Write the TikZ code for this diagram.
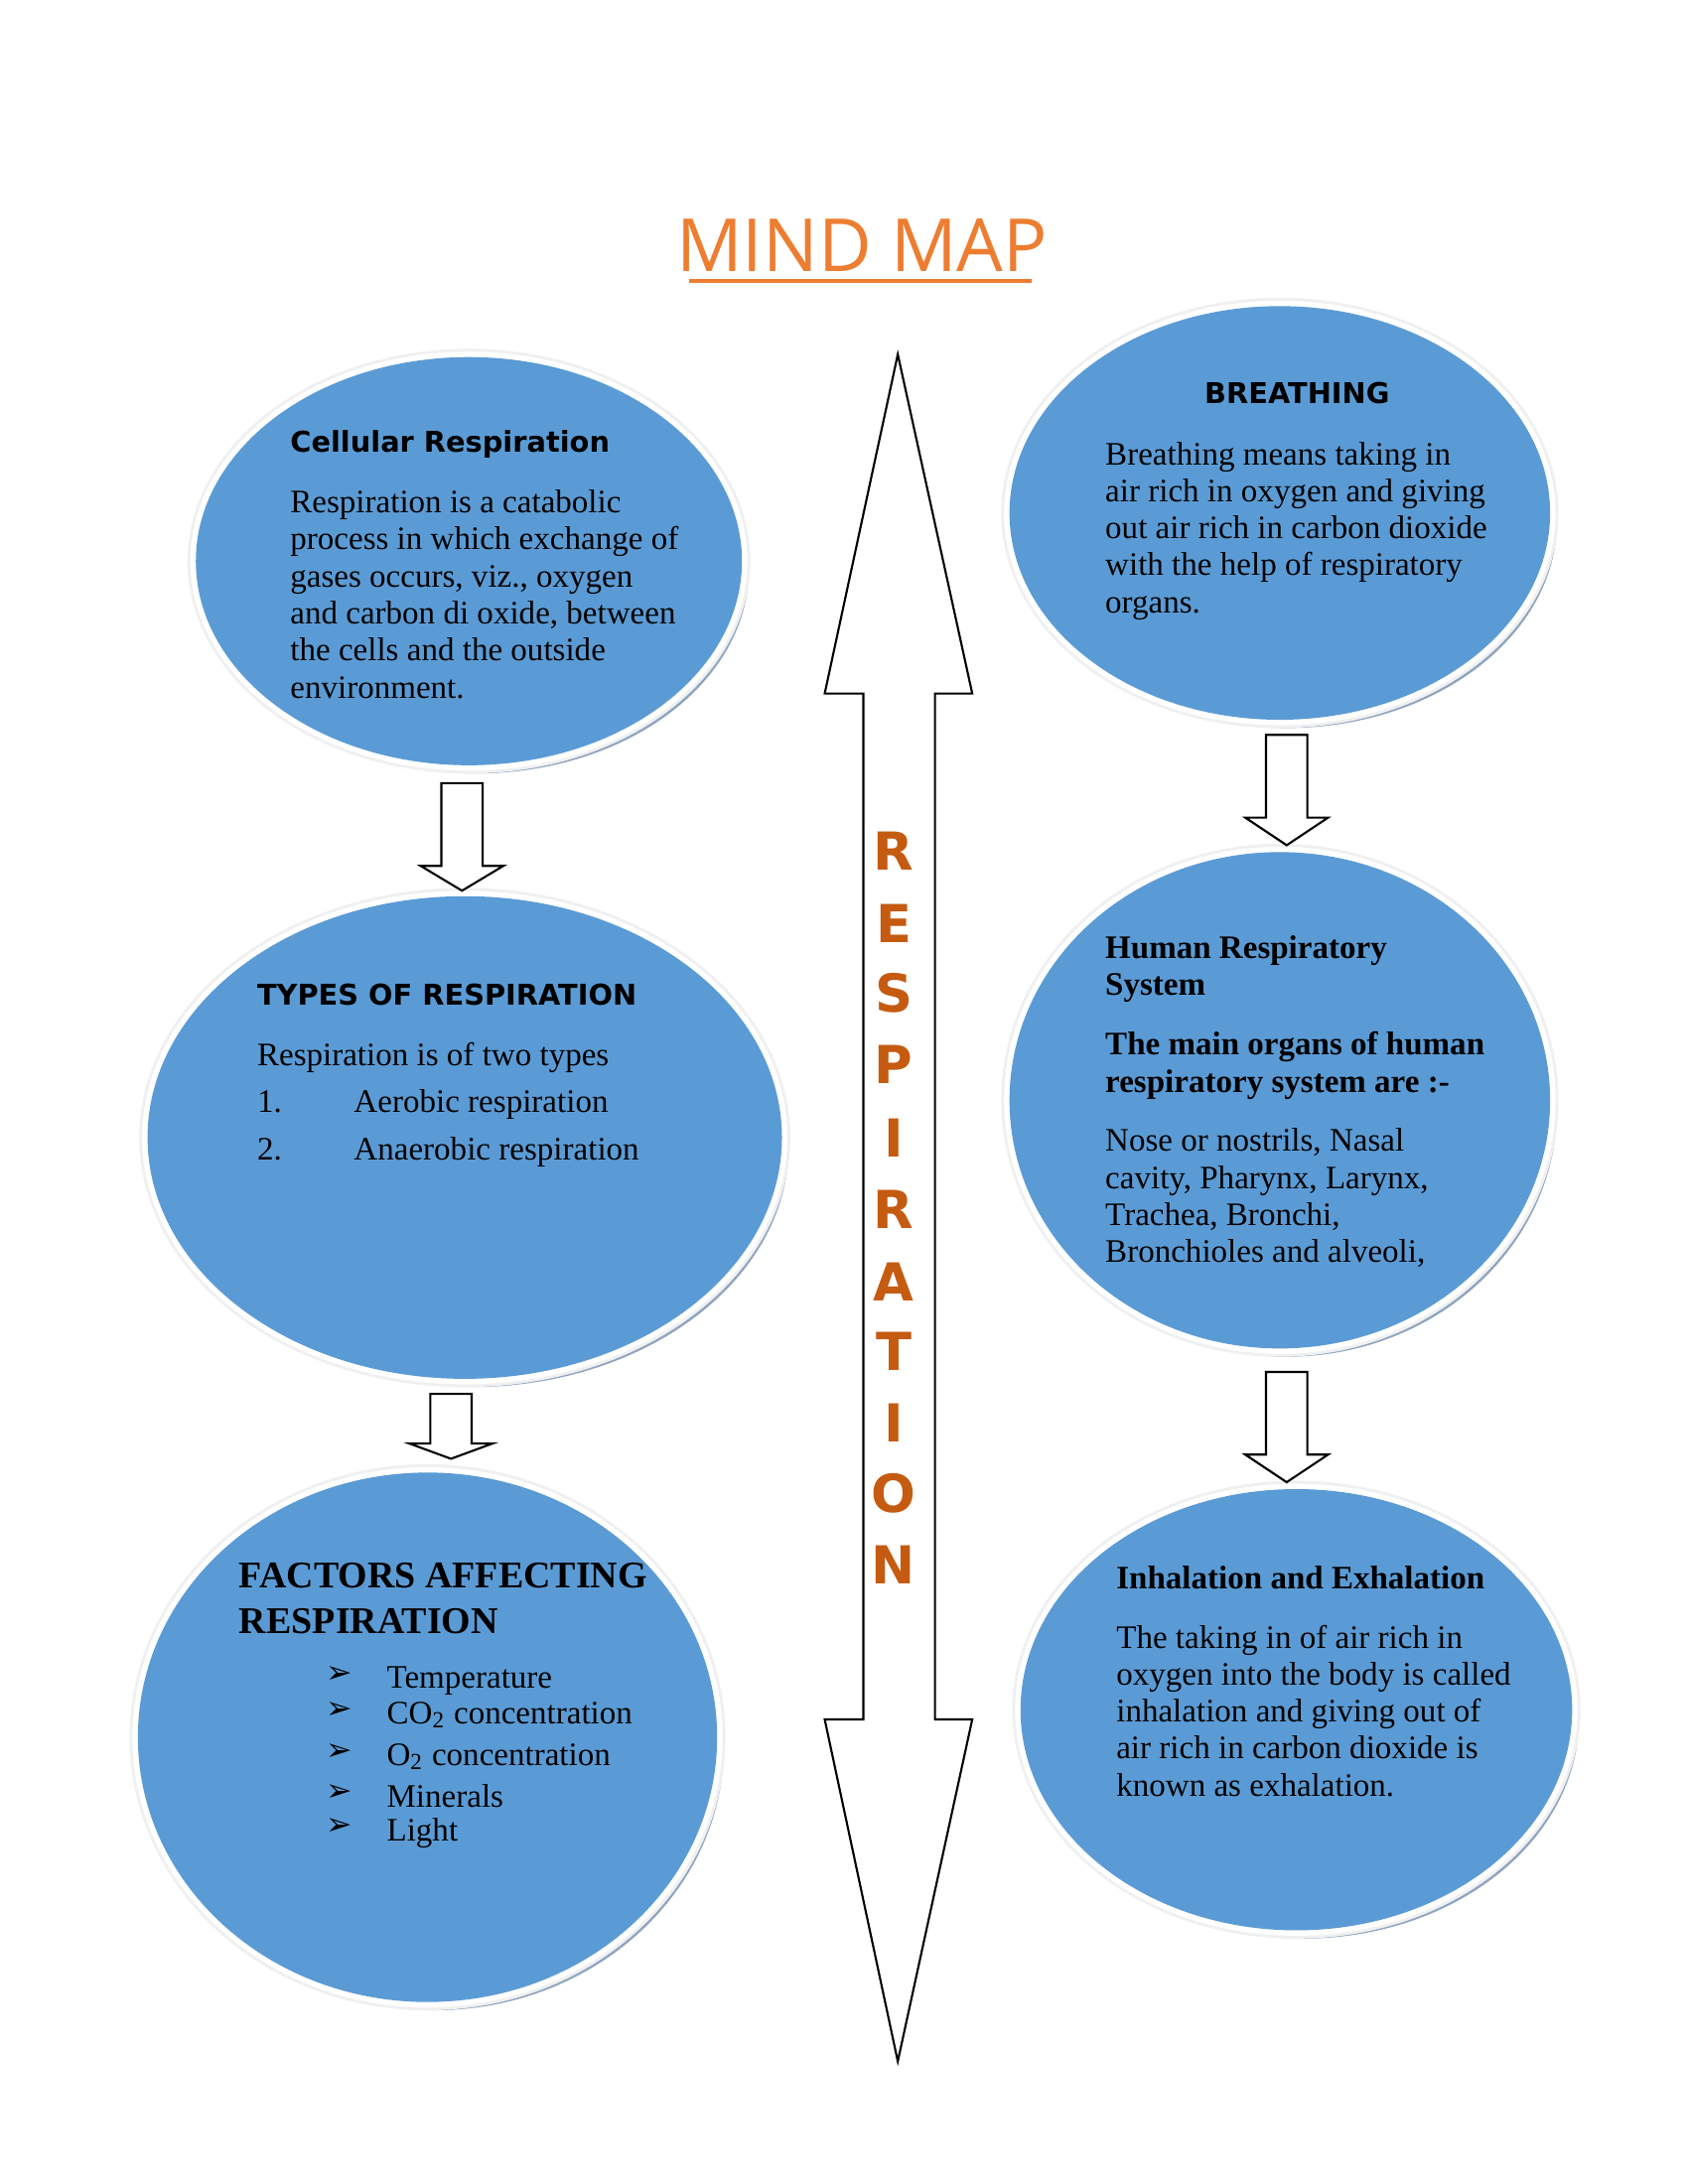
\documentclass[tikz,border=0pt]{standalone}
\usepackage{fontspec}
\setmainfont{Liberation Serif}
\newfontfamily\hd{DejaVu Sans}
\newfontfamily\ttl{Open Sans}
\definecolor{bub}{HTML}{5B9BD5}
\definecolor{shd}{HTML}{8DA5C0}
\definecolor{org}{HTML}{ED7D31}
\definecolor{dorg}{HTML}{C55A11}
\tikzset{
 txt/.style={anchor=north west,align=left,inner sep=0pt,font=\fontsize{9.4}{10.6}\selectfont},
 hdb/.style={anchor=base west,inner sep=0pt,font=\hd\bfseries\fontsize{8.2}{10}\selectfont},
 tmb/.style={anchor=north west,align=left,inner sep=0pt,font=\bfseries\fontsize{9.4}{10.6}\selectfont},
 blk/.style={draw=black,fill=white,line width=0.6pt},
 let/.style={font=\hd\bfseries\fontsize{15}{15}\selectfont,text=dorg}
}
\newcommand{\bubble}[5]{%
 \fill[shd] (#2+5,#3+6) ellipse [x radius=#4,y radius=#5];
 \draw[gray!12,fill=white,line width=0.8pt] (#2,#3) ellipse [x radius=#4+5,y radius=#5+5];
 \fill[bub] (#2,#3) ellipse [x radius=#4,y radius=#5];
 \coordinate (#1) at (#2,#3);}
\newcommand{\darrow}[6]{% name, xl, xr, top, bottom, tip ; head half-width extra 15
 \draw[blk] (#2,#4) -- (#3,#4) -- (#3,#5) -- (#3+15,#5) -- ({(#2+#3)/2},#6) -- (#2-15,#5) -- (#2,#5) -- cycle;
 \coordinate (#1) at ({(#2+#3)/2},#6);}
\begin{document}
\begin{tikzpicture}[x=0.013889cm,y=-0.013889cm]
\useasboundingbox (0,0) rectangle (1224,1584);
\fill[white] (0,0) rectangle (1224,1584);
\node[font=\ttl\fontsize{21}{24}\selectfont,text=org] (title) at (625,178) {MIND MAP};
\draw[org,line width=1.2pt] (500,204) -- (748,204);

\bubble{b1}{340}{407}{198}{148}
\bubble{b2}{337}{825}{230}{175}
\bubble{b3}{310}{1260}{210}{192}
\bubble{b4}{928}{372}{196}{150}
\bubble{b5}{928}{798}{196}{180}
\bubble{b6}{940}{1240}{200}{160}

\darrow{a1}{320}{350}{568}{628}{646}
\darrow{a2}{312}{342}{1011}{1047}{1058}
\darrow{a3}{918}{948}{533}{593}{613}
\darrow{a4}{918}{948}{995}{1055}{1075}

\draw[blk] (651,257) -- (705,503) -- (678,503) -- (678,1247) -- (705,1247) -- (651,1495) -- (598,1247) -- (626,1247) -- (626,503) -- (598,503) -- cycle;
\coordinate (big) at (651,876);
\foreach \l/\y [count=\i] in {R/617,E/670,S/720,P/772,I/825,R/877,A/930,T/980,I/1032,O/1083,N/1135}
  \node[let] (l\i) at (648,\y) {\l};

% Cellular
\node[hdb] (h1) at (210,328) {Cellular Respiration};
\node[txt] (t1) at (210,355) {Respiration is a catabolic\\process in which exchange of\\gases occurs, viz., oxygen\\and carbon di oxide, between\\the cells and the outside\\environment.};
% Types
\node[hdb] (h2) at (186,729) {TYPES OF RESPIRATION};
\node[txt] (t2) at (186,756) {Respiration is of two types};
\node[txt] (t2a) at (186,790) {1.\hspace{2.2em}Aerobic respiration};
\node[txt] (t2b) at (186,824) {2.\hspace{2.2em}Anaerobic respiration};
% Factors
\node[tmb,font=\bfseries\fontsize{10.8}{13.2}\selectfont] (h3) at (173,1133) {FACTORS AFFECTING\\RESPIRATION};
\foreach \t/\y [count=\i] in {Temperature/1208,CO\textsubscript{2} concentration/1234,O\textsubscript{2} concentration/1264,Minerals/1294,Light/1318}{
  \node[txt] (f\i) at (280,\y) {\t};
  \node[anchor=north west,inner sep=0pt,font=\hd\fontsize{9}{10}\selectfont] (fb\i) at (236,\y) {➢};}
% Breathing
\node[hdb] (h4) at (873,293) {BREATHING};
\node[txt] (t4) at (801,320) {Breathing means taking in\\air rich in oxygen and giving\\out air rich in carbon dioxide\\with the help of respiratory\\organs.};
% Human
\node[tmb] (h5) at (801,678) {Human Respiratory\\System};
\node[tmb] (h5b) at (801,748) {The main organs of human\\respiratory system are :-};
\node[txt] (t5) at (801,818) {Nose or nostrils, Nasal\\cavity, Pharynx, Larynx,\\Trachea, Bronchi,\\Bronchioles and alveoli,};
% Inhalation
\node[tmb] (h6) at (809,1135) {Inhalation and Exhalation};
\node[txt] (t6) at (809,1178) {The taking in of air rich in\\oxygen into the body is called\\inhalation and giving out of\\air rich in carbon dioxide is\\known as exhalation.};
\end{tikzpicture}
\end{document}
